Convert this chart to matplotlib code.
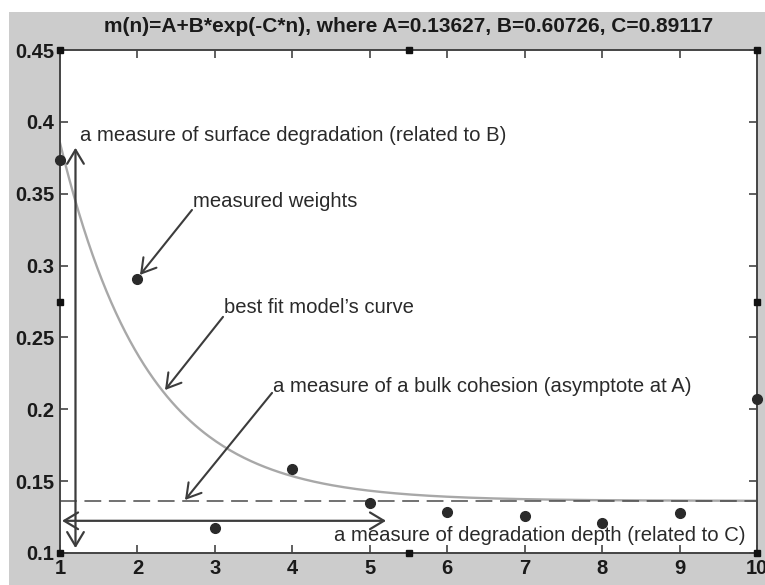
import numpy as np
import matplotlib
matplotlib.use("Agg")
from matplotlib import pyplot as plt
from matplotlib.patches import Rectangle
from matplotlib.ticker import FormatStrFormatter

# fit parameters (from the title)
A = 0.13627
B = 0.60726
C = 0.89117

# measured weights
n = [1, 2, 3, 4, 5, 6, 7, 8, 9, 10]
weights = [0.3736, 0.2906, 0.1173, 0.1584, 0.1345, 0.1287, 0.1259, 0.1206, 0.1280, 0.2071]

xTicks = [1, 2, 3, 4, 5, 6, 7, 8, 9, 10]
yTicks = [0.1, 0.15, 0.2, 0.25, 0.3, 0.35, 0.4, 0.45]

title = "m(n)=A+B*exp(-C*n), where A=0.13627, B=0.60726, C=0.89117"

plt.rcParams['font.family'] = ['Liberation Sans', 'DejaVu Sans']

TEXT = '#2a2a2a'
ARROW = '#3c3c3c'

fig = plt.figure(figsize=(7.65, 5.85), dpi=100, facecolor='white')
# gray MATLAB-like figure background (white strip at top/left as in the screenshot)
fig.patches.append(Rectangle((9 / 765, 0), 1 - 9 / 765, (585 - 12) / 585,
                             transform=fig.transFigure, facecolor='#cccccc',
                             edgecolor='none', zorder=-10))

ax = fig.add_axes([60 / 765, 32 / 585, 697 / 765, 503 / 585])
ax.set_facecolor('white')

# model curve
nFine = np.linspace(1, 10, 300)
ax.plot(nFine, A + B * np.exp(-C * nFine), color='#a8a8a8', lw=1.7, zorder=2)

# asymptote
ax.axhline(A, color='#4a4a4a', lw=1.1, dashes=(11, 5), zorder=2)

# measured points
ax.plot(n, weights, 'o', color='#2a2a2a', ms=7, clip_on=False, zorder=4)

ax.set_xlim(1, 10)
ax.set_ylim(0.1, 0.45)
ax.set_xticks(xTicks)
ax.set_yticks(yTicks)
ax.yaxis.set_major_formatter(FormatStrFormatter('%g'))
ax.tick_params(direction='in', length=6, width=1.2, color='#444444',
               top=True, right=True, labelsize=14.5, labelcolor='#1a1a1a', pad=4)
for lab in ax.get_xticklabels() + ax.get_yticklabels():
    lab.set_fontweight('bold')
for sp in ax.spines.values():
    sp.set_color('#444444')
    sp.set_linewidth(1.4)

ax.set_title(title, fontsize=15, fontweight='bold', color='#1a1a1a', pad=13)

# double arrows
ax.annotate('', xy=(1.2, 0.382), xytext=(1.2, 0.1034),
            arrowprops=dict(arrowstyle='<->,head_length=0.5,head_width=0.3',
                            color=ARROW, lw=1.6, shrinkA=0, shrinkB=0,
                            mutation_scale=20))
ax.annotate('', xy=(1.026, 0.1224), xytext=(5.21, 0.1224),
            arrowprops=dict(arrowstyle='<->,head_length=0.5,head_width=0.3',
                            color=ARROW, lw=1.6, shrinkA=0, shrinkB=0,
                            mutation_scale=20))

# pointer arrows: (start, end)
pointers = [((2.704, 0.3387), (2.033, 0.2935)),
            ((3.105, 0.2643), (2.356, 0.2134)),
            ((3.738, 0.2114), (2.614, 0.1369))]
for start, end in pointers:
    ax.annotate('', xy=end, xytext=start,
                arrowprops=dict(arrowstyle='->,head_length=0.5,head_width=0.3',
                                color=ARROW, lw=1.5, shrinkA=0, shrinkB=0,
                                mutation_scale=20))

labels = [(1.258, 0.3902, "a measure of surface degradation (related to B)"),
          (2.717, 0.3443, "measured weights"),
          (3.118, 0.2705, "best fit model\u2019s curve"),
          (3.75, 0.2162, "a measure of a bulk cohesion (asymptote at A)"),
          (4.54, 0.1125, "a measure of degradation depth (related to C)")]
for x, y, s in labels:
    ax.text(x, y, s, fontsize=14.6, color=TEXT, ha='left', va='center')

# selection handles
hx = [0, 0.5, 1, 0, 1, 0, 0.5, 1]
hy = [0, 0, 0, 0.5, 0.5, 1, 1, 1]
ax.plot(hx, hy, 's', color='#111111', ms=4.5, transform=ax.transAxes,
        clip_on=False, zorder=5)

plt.savefig('out.png', dpi=100, facecolor=fig.get_facecolor())
